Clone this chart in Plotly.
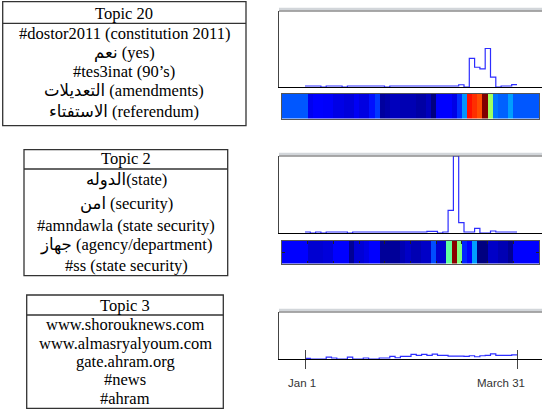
import numpy as np
import plotly.graph_objects as go

W, H = 542, 410

# ---- topic word lists -------------------------------------------------------
topic20_words = ["Topic 20", "#dostor2011 (constitution 2011)", "نعم (yes)",
                 "#tes3inat (90’s)", "التعديلات (amendments)", "الاستفتاء (referendum)"]
topic2_words = ["Topic 2", "الدوله(state)", "امن (security)",
                "#amndawla (state security)", "جهاز (agency/department)", "#ss (state security)"]
topic3_words = ["Topic 3", "www.shorouknews.com", "www.almasryalyoum.com",
                "gate.ahram.org", "#news", "#ahram"]

# ---- activity per time bin (40 bins, Jan 1 .. March 31) ---------------------
topic20_volume = [1, 1, 1, 0, 1, 1, 1, 0, 1, 1, 1, 1, 1, 1, 1, 0, 1, 1, 1, 1,
                  1, 1, 1, 1, 1, 1, 1, 1, 1, 2.3, 0, 29, 20, 18.3, 39, 10, 0, 1, 1, 2.5]
topic2_volume = [1, 0, 1, 0, 1, 1, 1, 1, 0, 1, 1, 1, 1, 1, 1, 1, 1, 1, 1, 1,
                 1, 1, 1, 1.7, 1.7, 0, 1, 22.7, 77, 10.3, 1, 1, 4.7, 0, 0, 2, 1, 1, 1, 1]
topic3_volume = [0.7, 0, 0, 0, 2, 1, 0, 0, 2, 0, 0, 1, 0, 0, 1, 1, 2.7, 1.3, 2.7, 2.7,
                 4.7, 3.7, 4.7, 3.7, 5, 3.7, 3.7, 3, 3, 3, 2.7, 3.3, 2.3, 3.3, 3.7, 5.3,
                 3.7, 3.7, 3.7, 4.3]

# ---- normalised intensity per bin for the colour strips ---------------------
topic20_heat = [0.11, 0.125, 0.125, 0.12, 0.12, 0.10, 0.10, 0.09, 0.09, 0.115,
                0.095, 0.095, 0.14, 0.18, 0.03, 0.04, 0.06, 0.06, 0.05, 0.05,
                0.05, 0.035, 0.035, 0.06, 0.0, 0.125, 0.125, 0.125, 0.10, 0.17,
                0.27, 0.86, 0.83, 0.80, 1.0, 0.53, 0.24, 0.22, 0.22, 0.28]
topic20_heat_edge = 0.21
topic2_heat = [0.08, 0.08, 0.08, 0.09, 0.09, 0.125, 0.125, 0.125, 0.02, 0.085,
               0.085, 0.10, 0.125, 0.125, 0.025, 0.025, 0.025, 0.025, 0.05, 0.07,
               0.05, 0.05, 0.07, 0.07, 0.2, 0.08, 0.08, 0.47, 0.99, 0.5,
               0.16, 0.125, 0.28, 0.0, 0.0, 0.07, 0.07, 0.05, 0.05, 0.02]
topic2_heat_edge = 0.125
heat_pad = 5  # bins shown before Jan 1 and after March 31

date_ticks = [0, 90]
date_labels = ["Jan 1", "March 31"]

n_bins = len(topic20_volume)
bin_days = 90 / n_bins
edges = np.arange(n_bins + 1) * bin_days

jet = [[0, "#000080"], [0.125, "#0000ff"], [0.375, "#00ffff"],
       [0.625, "#ffff00"], [0.875, "#ff0000"], [1, "#800000"]]


def px_x(v):
    return v / W


def px_y(v):
    return 1 - v / H


# panel geometry (pixels)
line_left, line_right = 279, 542
jan_px, mar_px = 305, 517
day_px = (mar_px - jan_px) / 90
day_range = [(line_left - jan_px) / day_px, (line_right - jan_px) / day_px]
heat_left, heat_right = 282, 539

fig = go.Figure()

line_color = "rgb(45,45,255)"
for i, vals in enumerate([topic20_volume, topic2_volume, topic3_volume]):
    ax = ["", "3", "5"][i]
    fig.add_trace(go.Scatter(
        x=edges, y=list(vals) + [vals[-1]], mode="lines", line_shape="hv",
        line=dict(color=line_color, width=1.2),
        xaxis="x" + ax, yaxis="y" + ax, hoverinfo="skip", showlegend=False))

for i, (vals, edge) in enumerate([(topic20_heat, topic20_heat_edge),
                                  (topic2_heat, topic2_heat_edge)]):
    ax = ["2", "4"][i]
    z = [[edge] * heat_pad + list(vals) + [edge] * heat_pad]
    fig.add_trace(go.Heatmap(
        z=z, x=np.arange(-heat_pad, n_bins + heat_pad + 1), y=[0, 1],
        colorscale=jet, zmin=0, zmax=1, showscale=False,
        xaxis="x" + ax, yaxis="y" + ax, hoverinfo="skip"))

line_panels = {"": (11, 87, 77), "3": (156, 233, 77), "5": (312, 359, 48)}
heat_panels = {"2": (94, 118.5), "4": (241, 263.5)}

layout = dict(width=W, height=H, margin=dict(l=0, r=0, t=0, b=0),
              plot_bgcolor="white", paper_bgcolor="white", showlegend=False)

for ax, (top, bottom, ymax) in line_panels.items():
    xa = "xaxis" + ax
    ya = "yaxis" + ax
    layout[xa] = dict(domain=[px_x(line_left), 1], range=day_range, anchor="y" + ax,
                      showline=True, linecolor="black", linewidth=1.3,
                      showgrid=False, zeroline=False, showticklabels=False, ticks="")
    layout[ya] = dict(domain=[px_y(bottom), px_y(top)], range=[0, ymax], anchor="x" + ax,
                      showline=True, linecolor="#444", linewidth=1.2,
                      showgrid=False, zeroline=False, showticklabels=False, ticks="")

for ax, (top, bottom) in heat_panels.items():
    layout["xaxis" + ax] = dict(domain=[px_x(heat_left), px_x(heat_right)],
                                range=[-heat_pad, n_bins + heat_pad], anchor="y" + ax,
                                showline=True, mirror=True, linecolor="#555", linewidth=1.2,
                                showgrid=False, zeroline=False, showticklabels=False, ticks="")
    layout["yaxis" + ax] = dict(domain=[px_y(bottom), px_y(top)], range=[0, 1], anchor="x" + ax,
                                showline=True, mirror=True, linecolor="#555", linewidth=1.2,
                                showgrid=False, zeroline=False, showticklabels=False, ticks="")

# small inside ticks framing the second colour strip
layout["xaxis4"].update(mirror="ticks", ticks="inside", ticklen=2.5, tickwidth=1,
                        tickcolor="#222", tickvals=list(range(0, n_bins + 1, 5)))
layout["yaxis4"].update(mirror="ticks", ticks="inside", ticklen=2.5, tickwidth=1,
                        tickcolor="#222", tickvals=[0.5])

# date ticks crossing the bottom axis of the last panel
layout["xaxis5"].update(tickvals=date_ticks, ticks="outside", ticklen=9,
                        tickcolor="#444", tickwidth=1)
layout["xaxis6"] = dict(domain=layout["xaxis5"]["domain"], range=day_range,
                        overlaying="x5", anchor="y5", side="bottom",
                        tickvals=date_ticks, ticks="inside", ticklen=9,
                        tickcolor="#444", tickwidth=1, showticklabels=False,
                        showgrid=False, zeroline=False, showline=False)
fig.add_trace(go.Scatter(x=[None], y=[None], xaxis="x6", yaxis="y5",
                         showlegend=False, hoverinfo="skip"))

fig.update_layout(**layout)

shapes = []
annotations = []

# light frame edge above each line panel
for ax, (top, bottom, ymax) in line_panels.items():
    shapes.append(dict(type="line", xref="paper", yref="paper",
                       x0=px_x(line_left), x1=1, y0=px_y(top - 2), y1=px_y(top - 2),
                       line=dict(color="#d2d6da", width=2.5)))
    shapes.append(dict(type="line", xref="paper", yref="paper",
                       x0=px_x(line_left), x1=1, y0=px_y(top), y1=px_y(top),
                       line=dict(color="#555", width=1.2)))

# date labels
label_centres = [302, 501]
for lab, cx in zip(date_labels, label_centres):
    annotations.append(dict(text=lab, x=px_x(cx), y=px_y(383), xref="paper", yref="paper",
                            showarrow=False, xanchor="center", yanchor="middle",
                            font=dict(family="Liberation Sans, Arial", size=11.5, color="#333")))

# topic word tables
tables = [
    (topic20_words, (2.7, 246, 1.7, 23.3, 125.7), 124, [13.3, 33.3, 52.5, 72, 91, 111]),
    (topic2_words, (24, 227.7, 149.7, 169, 275.7), 126, [158.5, 180, 203, 225, 245, 265]),
    (topic3_words, (26.7, 223.3, 295, 315, 408.3), 125, [305, 324.5, 343, 361, 379.5, 398]),
]
for words, (x0, x1, y0, ysep, y1), cx, rows in tables:
    shapes.append(dict(type="rect", xref="paper", yref="paper",
                       x0=px_x(x0), x1=px_x(x1), y0=px_y(y1), y1=px_y(y0),
                       line=dict(color="#333", width=1.3)))
    shapes.append(dict(type="line", xref="paper", yref="paper",
                       x0=px_x(x0), x1=px_x(x1), y0=px_y(ysep), y1=px_y(ysep),
                       line=dict(color="#333", width=1.3)))
    for word, ry in zip(words, rows):
        annotations.append(dict(text=word, x=px_x(cx), y=px_y(ry), xref="paper", yref="paper",
                                showarrow=False, xanchor="center", yanchor="middle",
                                font=dict(family="Liberation Serif, DejaVu Serif, DejaVu Sans",
                                          size=16.5, color="black")))

fig.update_layout(shapes=shapes, annotations=annotations)
fig.write_html("out.html")
